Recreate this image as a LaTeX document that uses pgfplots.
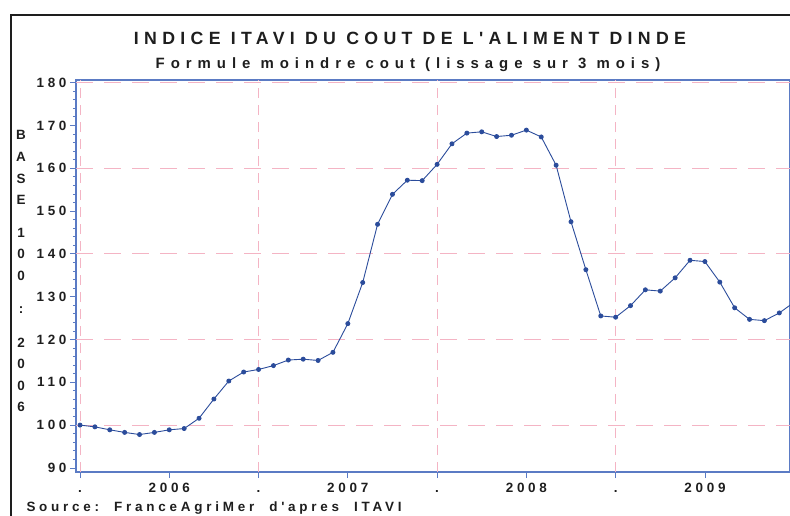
\documentclass[border=0pt]{standalone}
\usepackage{pgfplots}
\pgfplotsset{compat=1.18}
\usepackage{pgfplotstable}
\usepackage{fontspec}
\setmainfont{Liberation Sans}
\newfontfamily\spacedA[LetterSpace=28]{Liberation Sans}
\newfontfamily\spacedT[LetterSpace=30]{Liberation Sans}
\newfontfamily\spacedB[LetterSpace=40]{Liberation Sans}
\definecolor{axisblue}{HTML}{5B7BC4}
\definecolor{lineblue}{HTML}{2B4C9B}
\definecolor{gridpink}{HTML}{F4B4C4}
\definecolor{txt}{HTML}{1E1E1E}

\pgfplotstableread{
m v
0 100.0
1 99.6
2 98.9
3 98.3
4 97.8
5 98.3
6 98.9
7 99.2
8 101.6
9 106.1
10 110.3
11 112.4
12 113.0
13 113.9
14 115.2
15 115.4
16 115.1
17 117.0
18 123.7
19 133.3
20 146.9
21 153.9
22 157.2
23 157.1
24 160.9
25 165.7
26 168.2
27 168.5
28 167.4
29 167.7
30 168.9
31 167.3
32 160.7
33 147.5
34 136.3
35 125.5
36 125.2
37 127.9
38 131.6
39 131.3
40 134.4
41 138.5
42 138.2
43 133.4
44 127.4
45 124.7
46 124.4
47 126.2
48 128.7
}\itavi

\begin{document}
\begin{tikzpicture}
\useasboundingbox (0bp,0bp) rectangle (790bp,-516bp);
\begin{scope}
\clip (0bp,0bp) rectangle (790bp,-516bp);
\draw[line width=2.2bp, txt] (11bp,-900bp) -- (11bp,-15bp) -- (1000bp,-15bp);
\end{scope}
\node[anchor=base, text=txt, font=\spacedT\bfseries\fontsize{17.8}{20}\selectfont] at (410bp,-44bp) {INDICE ITAVI DU COUT DE L'ALIMENT DINDE};
\node[anchor=base, text=txt, font=\spacedB\bfseries\fontsize{15}{17}\selectfont] at (408bp,-68bp) {Formule moindre cout (lissage sur 3 mois)};
\node[anchor=base west, text=txt, font=\spacedA\bfseries\fontsize{13.5}{15}\selectfont] at (23bp,-511bp) {Source:\ \ FranceAgriMer\ \ d'apres\ \ ITAVI};
\foreach \c/\yy in {B/135,A/157,S/179,E/200,1/233,0/254,0/276,:/310,2/343,0/364,0/386,6/407}
  \node[text=txt, font=\bfseries\fontsize{13.5}{15}\selectfont] at (21bp,-\yy bp) {\c};
\begin{axis}[
  at={(76bp,-472bp)}, anchor=south west, scale only axis,
  width=714bp, height=392bp,
  xmin=-0.27, xmax=47.72, ymin=89.05, ymax=180.6,
  axis line style={axisblue, line width=1.1bp},
  xtick={0,6,...,42}, xticklabels={.,2006,.,2007,.,2008,.,2009},
  ytick={90,100,...,180},
  minor y tick num=4,
  xtick pos=lower, ytick pos=left,
  tick align=outside, major tick length=6bp, minor tick length=3bp,
  tick style={axisblue, line width=0.8bp},
  ticklabel style={font=\spacedA\bfseries\fontsize{13.5}{15}\selectfont, text=txt},
  xticklabel style={text height=9.5bp, text depth=0bp, yshift=-1bp},
  /pgf/number format/assume math mode=true,
  major x grid style={gridpink, line width=0.9bp, dash pattern=on 10bp off 7bp},
  major y grid style={gridpink, line width=0.9bp, dash pattern=on 17bp off 11bp},
  extra y ticks={100,120,140,160,180}, extra y tick labels={},
  extra y tick style={grid=major, major tick length=0pt},
  extra x ticks={0,12,24,36}, extra x tick labels={},
  extra x tick style={grid=major, major tick length=0pt},
]
\addplot[lineblue, line width=0.9bp, mark=*, mark size=2bp, mark options={fill=lineblue, draw=lineblue}] table[x=m, y=v] {\itavi};
\end{axis}
\end{tikzpicture}
\end{document}
